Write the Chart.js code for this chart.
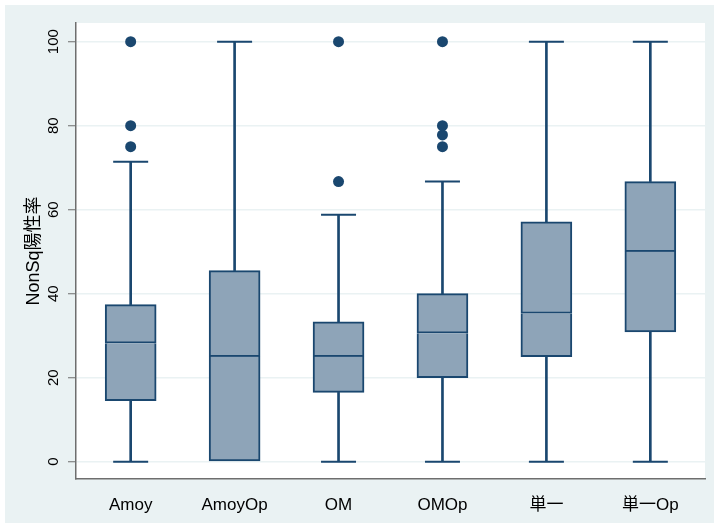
<!DOCTYPE html>
<html>
<head>
<meta charset="utf-8">
<script src="https://cdn.jsdelivr.net/npm/chart.js@4"></script>
<style>
    html, body { margin: 0; padding: 0; background: #ffffff; overflow: hidden; }
    #wrap { width: 714px; height: 523px; position: relative; }
    canvas { display: block; }
</style>
</head>
<body>
<div id="wrap"><canvas id="box"></canvas></div>
<script>
// box plot values
const categories = ["Amoy", "AmoyOp", "OM", "OMOp", "単一", "単一Op"];
const lowWhisker = [0, 0, 0, 0, 0, 0];
const q1 = [14.5, 0, 16.5, 20, 25, 30.9];
const median = [28.2, 25, 25, 30.6, 35.3, 50];
const q3 = [37.4, 45.5, 33.3, 40, 57.1, 66.7];
const highWhisker = [71.4, 100, 58.8, 66.7, 100, 100];
const outliers = [[75, 80, 100], [], [66.7, 100], [75, 77.8, 80, 100], [], []];
const yTicks = [0, 20, 40, 60, 80, 100];

document.addEventListener("DOMContentLoaded", () => {
    const navy = "#1a476f";
    const fill = "#8ea4b8";
    const bg = "#eaf2f3";

    const idx = categories.map((c, i) => i);

    const lowerBox = idx.map(i => ({ x: i, y: [q1[i], median[i]] }));
    const upperBox = idx.map(i => ({ x: i, y: [median[i], q3[i]] }));
    const upperWhisk = idx.map(i => ({ x: i, y: [q3[i], highWhisker[i]] }));
    const lowerWhisk = idx.filter(i => q1[i] > lowWhisker[i]).map(i => ({ x: i, y: [lowWhisker[i], q1[i]] }));
    let caps = [];
    for (const i of idx) {
        caps.push({ x: i, y: highWhisker[i] });
        if (q1[i] > lowWhisker[i]) caps.push({ x: i, y: lowWhisker[i] });
    }
    let outPts = [];
    outliers.forEach((arr, i) => arr.forEach(v => outPts.push({ x: i, y: v })));

    const background = {
        id: "background",
        beforeDraw(chart) {
            const ctx = chart.ctx;
            const a = chart.chartArea;
            ctx.save();
            ctx.fillStyle = "#ffffff";
            ctx.fillRect(0, 0, chart.width, chart.height);
            ctx.fillStyle = bg;
            ctx.fillRect(5, 5, chart.width - 5, chart.height - 5);
            ctx.fillStyle = "#ffffff";
            ctx.fillRect(a.left, a.top, a.right - a.left, a.bottom - a.top);
            ctx.restore();
        }
    };

    const ctx = document.getElementById("box").getContext("2d");
    new Chart(ctx, {
        type: "bar",
        data: {
            datasets: [
                {
                    label: "lower", data: lowerBox, backgroundColor: fill, borderColor: navy,
                    borderWidth: 2, borderSkipped: "top", barThickness: 51, grouped: false, order: 1
                },
                {
                    label: "upper", data: upperBox, backgroundColor: fill, borderColor: navy,
                    borderWidth: 2, borderSkipped: false, barThickness: 51, grouped: false, order: 1
                },
                {
                    label: "whiskHigh", data: upperWhisk, backgroundColor: navy, borderWidth: 0,
                    barThickness: 2, grouped: false, order: 3
                },
                {
                    label: "whiskLow", data: lowerWhisk, backgroundColor: navy, borderWidth: 0,
                    barThickness: 2, grouped: false, order: 3
                },
                {
                    type: "scatter", label: "caps", data: caps, pointStyle: "line", pointRadius: 17.5,
                    borderColor: navy, borderWidth: 2, order: 2
                },
                {
                    type: "scatter", label: "outliers", data: outPts, pointStyle: "circle", pointRadius: 5.5,
                    backgroundColor: navy, borderColor: navy, borderWidth: 0, order: 0
                }
            ]
        },
        options: {
            responsive: true,
            maintainAspectRatio: false,
            animation: false,
            layout: { autoPadding: false, padding: { top: 23, right: 9, left: 0, bottom: 0 } },
            plugins: { legend: { display: false }, tooltip: { enabled: false } },
            scales: {
                x: {
                    type: "linear",
                    offset: false,
                    min: -0.526,
                    max: 5.526,
                    afterBuildTicks: (s) => { s.ticks = idx.map(v => ({ value: v })); },
                    afterFit: (s) => { s.height = 44; s.paddingLeft = 0; s.paddingRight = 0; },
                    grid: { display: false },
                    border: { display: true, color: "#6e6e6e", width: 1.5 },
                    ticks: {
                        callback: (v) => categories[v],
                        color: "#000000",
                        font: { family: "'Liberation Sans', Arial, 'Noto Sans CJK JP'", size: 17 },
                        padding: 8,
                        maxRotation: 0,
                        autoSkip: false
                    }
                },
                y: {
                    min: -4.12,
                    max: 104.45,
                    afterBuildTicks: (s) => { s.ticks = yTicks.map(v => ({ value: v })); },
                    afterFit: (s) => { s.width = 76; s.paddingTop = 0; s.paddingBottom = 0; },
                    grid: { color: bg, lineWidth: 1.5, tickLength: 8, tickColor: "#6e6e6e", tickWidth: 1 },
                    border: { display: true, color: "#6e6e6e", width: 1.5 },
                    ticks: {
                        color: "#000000",
                        font: { family: "'Liberation Sans', Arial", size: 15 },
                        minRotation: 90,
                        maxRotation: 90,
                        crossAlign: "center",
                        padding: 2
                    },
                    title: {
                        display: true,
                        text: "NonSq陽性率",
                        color: "#000000",
                        font: { family: "'Liberation Sans', Arial, 'Noto Sans CJK JP'", size: 18 },
                        padding: { top: 23, bottom: 0 }
                    }
                }
            }
        },
        plugins: [background]
    });
});
</script>
</body>
</html>
